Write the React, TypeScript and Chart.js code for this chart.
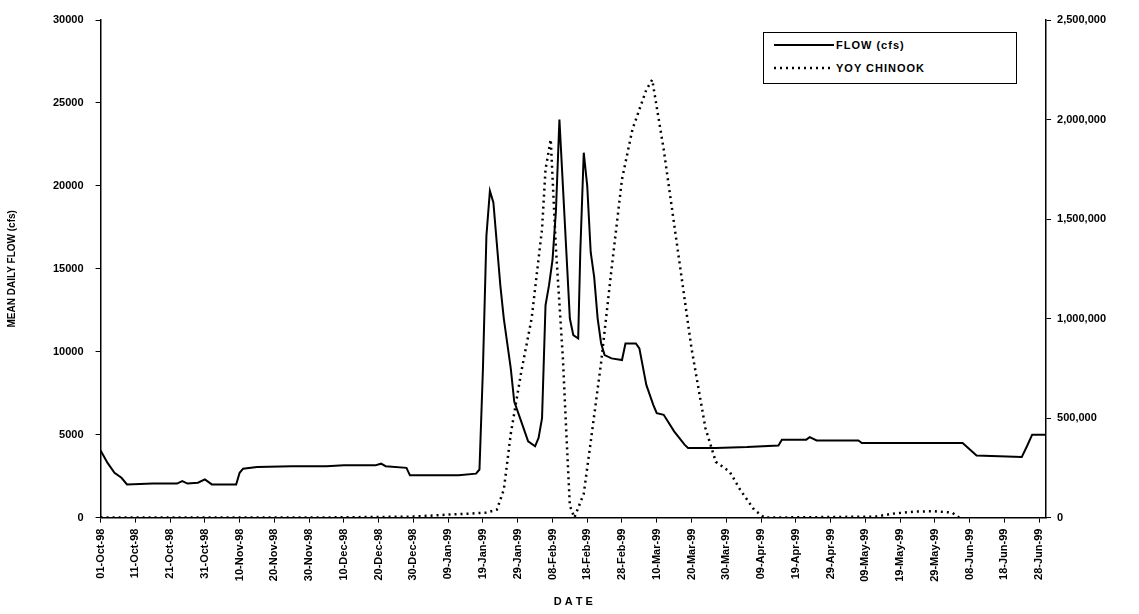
import React, { useEffect, useRef } from "react";
import { Chart, registerables } from "chart.js";
Chart.register(...registerables);

const tickLabels = ["01-Oct-98","11-Oct-98","21-Oct-98","31-Oct-98","10-Nov-98","20-Nov-98","30-Nov-98","10-Dec-98","20-Dec-98","30-Dec-98","09-Jan-99","19-Jan-99","29-Jan-99","08-Feb-99","18-Feb-99","28-Feb-99","10-Mar-99","20-Mar-99","30-Mar-99","09-Apr-99","19-Apr-99","29-Apr-99","09-May-99","19-May-99","29-May-99","08-Jun-99","18-Jun-99","28-Jun-99"];

const flowDays = [0,2,4,6,7.6,15,22,23.5,25,28,30,32,39,40,41,45,55,65,70,75,79,80.7,82,88,89,95,103,108,109,110,111,112,113,115,116,118,119,121,123,125,126,127,128,129,130,131,132,133,134,135,136,137.4,138,139,140,141,142,143,144,145,147,150,151,154,155,157,159,160,162,165,168,169,177,186,195,196,203,204,206,218,219,248,252,265,266.5,268,272];
const flowValues = [4050,3300,2700,2400,2000,2050,2050,2200,2050,2100,2300,2000,2000,2700,2950,3050,3100,3100,3150,3150,3150,3250,3100,3000,2550,2550,2550,2650,2900,9000,17000,19700,19000,14000,12000,9000,7000,5800,4600,4300,4800,6000,12800,14000,15500,18500,24000,20000,16000,12000,11000,10800,16000,22000,20000,16000,14500,12000,10500,9800,9600,9500,10500,10500,10200,8000,6800,6300,6200,5200,4400,4200,4200,4250,4350,4700,4700,4850,4650,4650,4500,4500,3750,3650,4300,5000,5000];

const chinookDays = [0,60,90,100,106,111,114,116,118,121,124,127,128,129.5,131,133,134,135,136.3,139,141,144,147,150,153,157,158.7,162,166,170,174,177,181,184,188,191,223,228,234,240,245,247];
const chinookValues = [0,0,5000,15000,20000,25000,40000,140000,420000,730000,1000000,1450000,1750000,1900000,1350000,800000,420000,60000,0,120000,380000,780000,1250000,1700000,1950000,2150000,2200000,1850000,1350000,850000,450000,280000,230000,140000,40000,0,5000,20000,30000,32000,25000,0];

const FONT = "'Liberation Sans', Arial, sans-serif";

export default function App() {
  const ref = useRef<HTMLCanvasElement>(null);
  useEffect(() => {
    document.body.style.margin = "0";
    const tickFont = { family: FONT, size: 11, weight: "bold" as const };
    const chart = new Chart(ref.current!, {
      type: "line",
      data: {
        datasets: [
          {
            label: "FLOW (cfs)",
            data: flowDays.map((d, i) => ({ x: d, y: flowValues[i] })),
            borderColor: "#000",
            borderWidth: 2,
            pointRadius: 0,
            tension: 0,
            yAxisID: "y",
          },
          {
            label: "YOY CHINOOK",
            data: chinookDays.map((d, i) => ({ x: d, y: chinookValues[i] })),
            borderColor: "#000",
            borderWidth: 2.5,
            borderDash: [2, 4],
            pointRadius: 0,
            tension: 0,
            yAxisID: "y2",
          },
        ],
      },
      options: {
        animation: false,
        responsive: false,
        layout: { padding: { left: 6, right: 27, top: 20, bottom: 5 } },
        plugins: { legend: { display: false }, tooltip: { enabled: false } },
        scales: {
          x: {
            type: "linear",
            min: 0,
            max: 272,
            grid: { drawOnChartArea: false, color: "#000", tickLength: 5 },
            border: { color: "#000", width: 1.5 },
            afterBuildTicks: (s: any) => {
              s.ticks = tickLabels.map((_, i) => ({ value: i * 10 }));
            },
            ticks: {
              autoSkip: false,
              maxRotation: 90,
              minRotation: 90,
              padding: 6,
              color: "#000",
              font: tickFont,
              callback: (v: any) => tickLabels[Math.round(Number(v) / 10)] ?? "",
            },
            title: { display: true, text: "D A T E", color: "#000", padding: { top: 8, bottom: 0 }, font: { family: FONT, size: 11, weight: "bold" } },
          },
          y: {
            position: "left",
            min: 0,
            max: 30000,
            grid: { drawOnChartArea: false, color: "#000", tickLength: 5 },
            border: { color: "#000", width: 1.5 },
            ticks: { stepSize: 5000, padding: 12, color: "#000", font: tickFont, callback: (v: any) => String(v) },
            title: { display: true, text: "MEAN DAILY FLOW (cfs)", color: "#000", padding: { top: 0, bottom: 23 }, font: { family: FONT, size: 10, weight: "bold" } },
          },
          y2: {
            position: "right",
            min: 0,
            max: 2500000,
            grid: { drawOnChartArea: false, color: "#000", tickLength: 5 },
            border: { color: "#000", width: 1.5 },
            ticks: { stepSize: 500000, padding: 6, color: "#000", font: tickFont, callback: (v: any) => Number(v).toLocaleString("en-US") },
          },
        },
      },
    });
    return () => chart.destroy();
  }, []);
  return (
    <div style={{ position: "relative", width: 1139, height: 614, background: "#fff" }}>
      <canvas ref={ref} width={1139} height={614} />
      <div style={{ position: "absolute", left: 763, top: 32, width: 252, height: 50, border: "1.5px solid #000", background: "#fff", fontFamily: FONT, fontWeight: "bold", fontSize: 11, letterSpacing: 1 }}>
        <div style={{ display: "flex", alignItems: "center", height: 24, paddingLeft: 10 }}>
          <svg width={60} height={6}><line x1={0} y1={3} x2={60} y2={3} stroke="#000" strokeWidth={2} /></svg>
          <span style={{ marginLeft: 2 }}>FLOW (cfs)</span>
        </div>
        <div style={{ display: "flex", alignItems: "center", height: 22, paddingLeft: 10 }}>
          <svg width={60} height={6}><line x1={0} y1={3} x2={60} y2={3} stroke="#000" strokeWidth={2.5} strokeDasharray="2 4" /></svg>
          <span style={{ marginLeft: 2 }}>YOY CHINOOK</span>
        </div>
      </div>
    </div>
  );
}
